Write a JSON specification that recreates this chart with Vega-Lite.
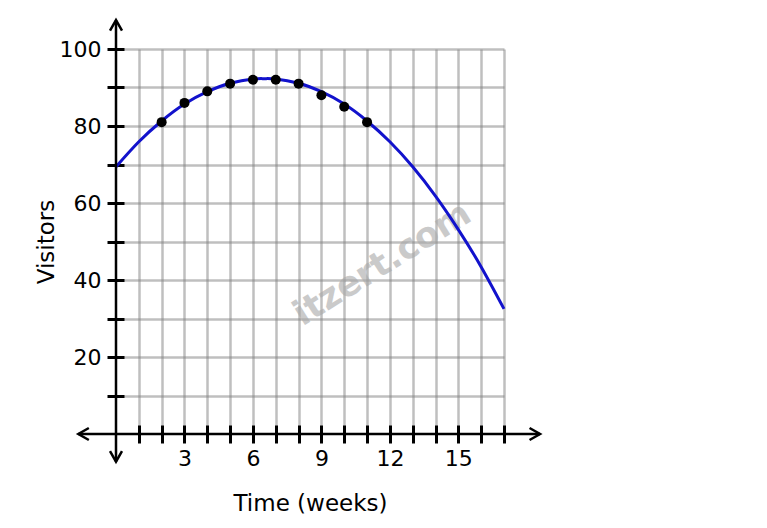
{
  "$schema": "https://vega.github.io/schema/vega-lite/v6.json",
  "width": 388,
  "height": 385,
  "autosize": {"type": "none"},
  "padding": {"left": 116, "top": 49, "right": 263, "bottom": 94},
  "background": "white",
  "datasets": {
    "curve": [
      {"week": 0, "visitors": 69.4},
      {"week": 1, "visitors": 75.9},
      {"week": 2, "visitors": 81.3},
      {"week": 3, "visitors": 85.7},
      {"week": 4, "visitors": 88.9},
      {"week": 5, "visitors": 91.1},
      {"week": 6, "visitors": 92.2},
      {"week": 6.5, "visitors": 92.3},
      {"week": 7, "visitors": 92.2},
      {"week": 8, "visitors": 91.1},
      {"week": 9, "visitors": 88.9},
      {"week": 10, "visitors": 85.7},
      {"week": 11, "visitors": 81.3},
      {"week": 12, "visitors": 75.9},
      {"week": 13, "visitors": 69.4},
      {"week": 14, "visitors": 61.8},
      {"week": 15, "visitors": 53.1},
      {"week": 16, "visitors": 43.4},
      {"week": 17, "visitors": 32.5}
    ],
    "observed": [
      {"week": 2, "visitors": 81},
      {"week": 3, "visitors": 86},
      {"week": 4, "visitors": 89},
      {"week": 5, "visitors": 91},
      {"week": 6, "visitors": 92},
      {"week": 7, "visitors": 92},
      {"week": 8, "visitors": 91},
      {"week": 9, "visitors": 88},
      {"week": 10, "visitors": 85},
      {"week": 11, "visitors": 81}
    ],
    "one": [{"k": 0}]
  },
  "layer": [
    {
      "data": {"name": "one"},
      "mark": {"type": "text", "font": "DejaVu Sans", "fontWeight": "bold", "fontSize": 35, "angle": -32, "align": "center", "baseline": "middle", "color": "#a8a8a8", "opacity": 0.6},
      "encoding": {
        "x": {"datum": 11.66, "type": "quantitative"},
        "y": {"datum": 44.2, "type": "quantitative"},
        "text": {"value": "itzert.com"}
      }
    },
    {
      "data": {"name": "curve"},
      "mark": {"type": "line", "color": "#1212cc", "strokeWidth": 3, "interpolate": "natural"},
      "encoding": {
        "x": {
          "field": "week",
          "type": "quantitative",
          "scale": {"domain": [0, 17], "nice": false, "zero": false},
          "axis": {
            "title": "Time (weeks)",
            "values": [1, 2, 3, 4, 5, 6, 7, 8, 9, 10, 11, 12, 13, 14, 15, 16, 17],
            "tickCount": 20,
            "labelExpr": "datum.value % 3 === 0 ? datum.label : ''",
            "offset": -9,
            "tickSize": 18,
            "labelPadding": 5,
            "titlePadding": 23
          }
        },
        "y": {
          "field": "visitors",
          "type": "quantitative",
          "scale": {"domain": [0, 100], "nice": false},
          "axis": {
            "title": "Visitors",
            "values": [10, 20, 30, 40, 50, 60, 70, 80, 90, 100],
            "tickCount": 12,
            "labelExpr": "datum.value % 20 === 0 ? datum.label : ''",
            "offset": -8,
            "tickSize": 17,
            "labelPadding": 6,
            "titlePadding": 1
          }
        }
      }
    },
    {
      "data": {"name": "observed"},
      "mark": {"type": "circle", "color": "black", "size": 100, "opacity": 1},
      "encoding": {
        "x": {"field": "week", "type": "quantitative"},
        "y": {"field": "visitors", "type": "quantitative"}
      }
    },
    {
      "data": {"name": "one"},
      "mark": {"type": "rule", "color": "black", "strokeWidth": 2.5},
      "encoding": {
        "x": {"datum": -1.65, "type": "quantitative"},
        "x2": {"datum": 18.58},
        "y": {"datum": 0, "type": "quantitative"}
      }
    },
    {
      "data": {"name": "one"},
      "mark": {"type": "rule", "color": "black", "strokeWidth": 2.5},
      "encoding": {
        "x": {"datum": 0, "type": "quantitative"},
        "y": {"datum": -7.2, "type": "quantitative"},
        "y2": {"datum": 107.5}
      }
    },
    {
      "data": {"name": "one"},
      "mark": {"type": "point", "shape": "M-1.75,-1L0,0L-1.75,1", "filled": false, "stroke": "black", "strokeWidth": 2.5, "size": 144, "opacity": 1, "angle": 0},
      "encoding": {"x": {"datum": 18.58, "type": "quantitative"}, "y": {"datum": 0, "type": "quantitative"}}
    },
    {
      "data": {"name": "one"},
      "mark": {"type": "point", "shape": "M-1.75,-1L0,0L-1.75,1", "filled": false, "stroke": "black", "strokeWidth": 2.5, "size": 144, "opacity": 1, "angle": 180},
      "encoding": {"x": {"datum": -1.65, "type": "quantitative"}, "y": {"datum": 0, "type": "quantitative"}}
    },
    {
      "data": {"name": "one"},
      "mark": {"type": "point", "shape": "M-1.75,-1L0,0L-1.75,1", "filled": false, "stroke": "black", "strokeWidth": 2.5, "size": 144, "opacity": 1, "angle": 270},
      "encoding": {"x": {"datum": 0, "type": "quantitative"}, "y": {"datum": 107.5, "type": "quantitative"}}
    },
    {
      "data": {"name": "one"},
      "mark": {"type": "point", "shape": "M-1.75,-1L0,0L-1.75,1", "filled": false, "stroke": "black", "strokeWidth": 2.5, "size": 144, "opacity": 1, "angle": 90},
      "encoding": {"x": {"datum": 0, "type": "quantitative"}, "y": {"datum": -7.2, "type": "quantitative"}}
    }
  ],
  "config": {
    "font": "DejaVu Sans",
    "view": {"stroke": null},
    "axis": {
      "domain": false,
      "grid": true,
      "gridColor": "#808080",
      "gridOpacity": 0.5,
      "gridWidth": 2.5,
      "tickColor": "black",
      "tickWidth": 3,
      "labelFont": "DejaVu Sans",
      "labelFontSize": 22,
      "labelColor": "black",
      "labelOverlap": false,
      "labelFlush": false,
      "titleFont": "DejaVu Sans",
      "titleFontSize": 23,
      "titleFontWeight": "normal",
      "titleColor": "black"
    }
  }
}
